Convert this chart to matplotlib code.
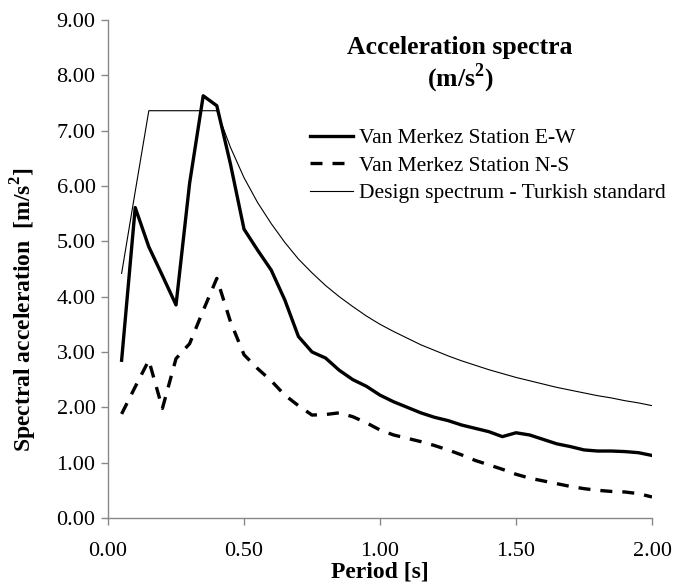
import matplotlib
matplotlib.use("Agg")
import matplotlib.pyplot as plt

# period values [s]
period = [0.05, 0.10, 0.15, 0.20, 0.25, 0.30, 0.35, 0.40, 0.45, 0.50,
          0.55, 0.60, 0.65, 0.70, 0.75, 0.80, 0.85, 0.90, 0.95, 1.00,
          1.05, 1.10, 1.15, 1.20, 1.25, 1.30, 1.35, 1.40, 1.45, 1.50,
          1.55, 1.60, 1.65, 1.70, 1.75, 1.80, 1.85, 1.90, 1.95, 2.00]

# spectral acceleration [m/s2]
ew = [2.85, 5.61, 4.90, 4.38, 3.85, 6.05, 7.63, 7.45, 6.40, 5.22,
      4.84, 4.48, 3.94, 3.28, 3.00, 2.89, 2.67, 2.50, 2.38, 2.22,
      2.10, 2.00, 1.90, 1.82, 1.76, 1.68, 1.62, 1.56, 1.47, 1.54,
      1.50, 1.42, 1.34, 1.29, 1.23, 1.21, 1.21, 1.20, 1.18, 1.13]

ns = [1.88, 2.37, 2.85, 1.98, 2.88, 3.15, 3.75, 4.33, 3.55, 2.95,
      2.70, 2.48, 2.22, 2.03, 1.86, 1.87, 1.90, 1.83, 1.72, 1.59,
      1.50, 1.44, 1.38, 1.31, 1.23, 1.14, 1.04, 0.96, 0.88, 0.79,
      0.72, 0.67, 0.62, 0.57, 0.53, 0.50, 0.48, 0.47, 0.44, 0.38]

design = [4.42, 5.90, 7.36, 7.36, 7.36, 7.36, 7.36, 7.36, 6.70, 6.15,
          5.70, 5.32, 4.98, 4.68, 4.43, 4.20, 4.00, 3.82, 3.65, 3.50,
          3.37, 3.25, 3.13, 3.03, 2.93, 2.84, 2.76, 2.68, 2.61, 2.54,
          2.48, 2.42, 2.36, 2.31, 2.26, 2.21, 2.17, 2.12, 2.08, 2.03]

labels = ["Van Merkez Station E-W", "Van Merkez Station N-S",
          "Design spectrum - Turkish standard"]

plt.rcParams['font.family'] = ['Liberation Serif', 'DejaVu Serif']
plt.rcParams['mathtext.fontset'] = 'custom'
plt.rcParams['mathtext.rm'] = 'Liberation Serif'
plt.rcParams['mathtext.bf'] = 'Liberation Serif:bold'

fig = plt.figure(figsize=(6.73, 5.82), dpi=100)
ax = fig.add_axes([0.1605, 0.11, 0.8083, 0.8557])

ax.plot(period, ew, color='black', linewidth=2.4, label=labels[0])
ax.plot(period, ns, color='black', linewidth=2.4, linestyle=(0, (3.6, 3.0)), label=labels[1])
ax.plot(period, design, color='black', linewidth=0.8, label=labels[2])

ax.set_xlim(0, 2.0)
ax.set_ylim(0, 9.0)
ax.set_xticks([0.0, 0.5, 1.0, 1.5, 2.0])
ax.set_yticks(range(0, 10))
ax.set_xticklabels(["%.2f" % v for v in [0.0, 0.5, 1.0, 1.5, 2.0]])
ax.set_yticklabels(["%.2f" % v for v in range(0, 10)])

for s in ['top', 'right']:
    ax.spines[s].set_visible(False)
for s in ['left', 'bottom']:
    ax.spines[s].set_color('#888888')
    ax.spines[s].set_linewidth(1.0)
ax.tick_params(axis='both', colors='#888888', labelcolor='black', labelsize=16,
               length=5, width=1.0, direction='out')
ax.tick_params(axis='x', pad=12)
ax.tick_params(axis='y', pad=4)

ax.set_ylabel(r"Spectral acceleration  [m/s$^\mathbf{2}$]", fontsize=17,
              fontweight='bold')
ax.yaxis.set_label_coords((39 - 108) / 544, 0.418)
fig.text(380 / 673, 1 - 572 / 582, "Period [s]", fontsize=17, fontweight='bold',
         ha='center', va='center')

ax.text((460 - 108) / 544, (518 - 66) / 498, "Acceleration spectra\n" + r"(m/s$^\mathbf{2}$)",
        transform=ax.transAxes, fontsize=18.5, fontweight='bold', ha='center',
        va='center', linespacing=1.1)

leg = ax.legend(loc='upper left', bbox_to_anchor=(0.355, 0.80), frameon=False,
                fontsize=15.5, handlelength=2.0, handletextpad=0.3, labelspacing=0.35,
                borderaxespad=0)

fig.savefig("out.png", dpi=100)
